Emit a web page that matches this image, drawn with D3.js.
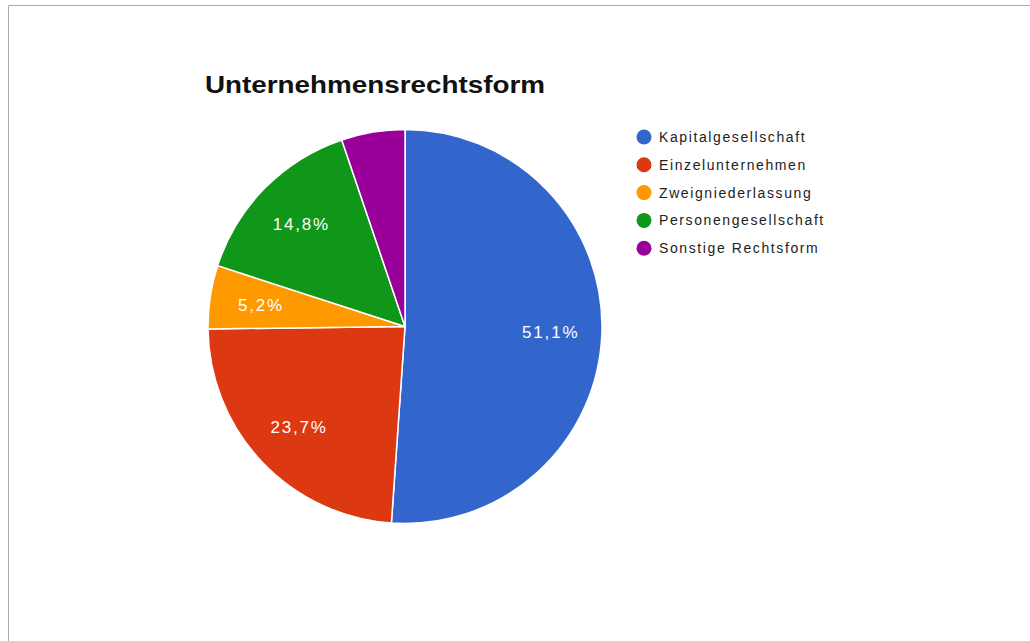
<!DOCTYPE html>
<html>
<head>
<meta charset="utf-8">
<script src="https://cdn.jsdelivr.net/npm/d3@7/dist/d3.min.js"></script>
<style>
  html, body { margin: 0; padding: 0; background: #fff; }
  svg { display: block; font-family: Arial, "Liberation Sans", sans-serif; }
</style>
</head>
<body>
<svg id="chart" width="1030" height="641"></svg>
<script>
// Legal forms of the companies and their shares (percent)
const categories = ["Kapitalgesellschaft", "Einzelunternehmen", "Zweigniederlassung", "Personengesellschaft", "Sonstige Rechtsform"];
const shares = [51.1, 23.7, 5.2, 14.8, 5.2];
const colors = ["#3366cc", "#dc3912", "#ff9900", "#109618", "#990099"];
const title = "Unternehmensrechtsform";

const svg = d3.select("#chart");

// frame
svg.append("path")
  .attr("d", "M8.5,641 L8.5,5.5 L1030,5.5")
  .attr("fill", "none")
  .attr("stroke", "#ababab")
  .attr("stroke-width", 1);

// title
svg.append("text")
  .attr("x", 205)
  .attr("y", 93)
  .attr("font-size", 24)
  .attr("font-weight", "bold")
  .attr("fill", "#111")
  .attr("textLength", 340)
  .attr("lengthAdjust", "spacingAndGlyphs")
  .text(title);

const cx = 405, cy = 326.5, r = 197;
const data = categories.map((c, i) => ({ name: c, value: shares[i], color: colors[i] }));

const pie = d3.pie().value(d => d.value).sort(null);
const arc = d3.arc().innerRadius(0).outerRadius(r);
const labelArc = d3.arc().innerRadius(r * 0.74).outerRadius(r * 0.74);
const arcs = pie(data);

const g = svg.append("g").attr("transform", `translate(${cx},${cy})`);

g.selectAll("path.slice")
  .data(arcs)
  .join("path")
  .attr("class", "slice")
  .attr("d", arc)
  .attr("fill", d => d.data.color)
  .attr("stroke", "#fff")
  .attr("stroke-width", 1.5);

const fmt = v => d3.format(".1f")(v).replace(".", ",") + "%";

// slice labels (the last slice is too narrow for its text)
g.selectAll("text.pct")
  .data(arcs.filter((d, i) => i < arcs.length - 1))
  .join("text")
  .attr("class", "pct")
  .attr("transform", d => `translate(${labelArc.centroid(d)})`)
  .attr("dy", "0.36em")
  .attr("text-anchor", "middle")
  .attr("font-size", 17)
  .attr("letter-spacing", 1.8)
  .attr("fill", "#fff")
  .text(d => fmt(d.data.value));

// legend
const legend = svg.append("g").attr("transform", "translate(644,137)");
const item = legend.selectAll("g.item")
  .data(data)
  .join("g")
  .attr("class", "item")
  .attr("transform", (d, i) => `translate(0,${i * 27.8})`);

item.append("circle")
  .attr("r", 7.5)
  .attr("fill", d => d.color);

item.append("text")
  .attr("x", 15)
  .attr("dy", "0.36em")
  .attr("font-size", 14)
  .attr("letter-spacing", 1.6)
  .attr("fill", "#222")
  .text(d => d.name);
</script>
</body>
</html>
